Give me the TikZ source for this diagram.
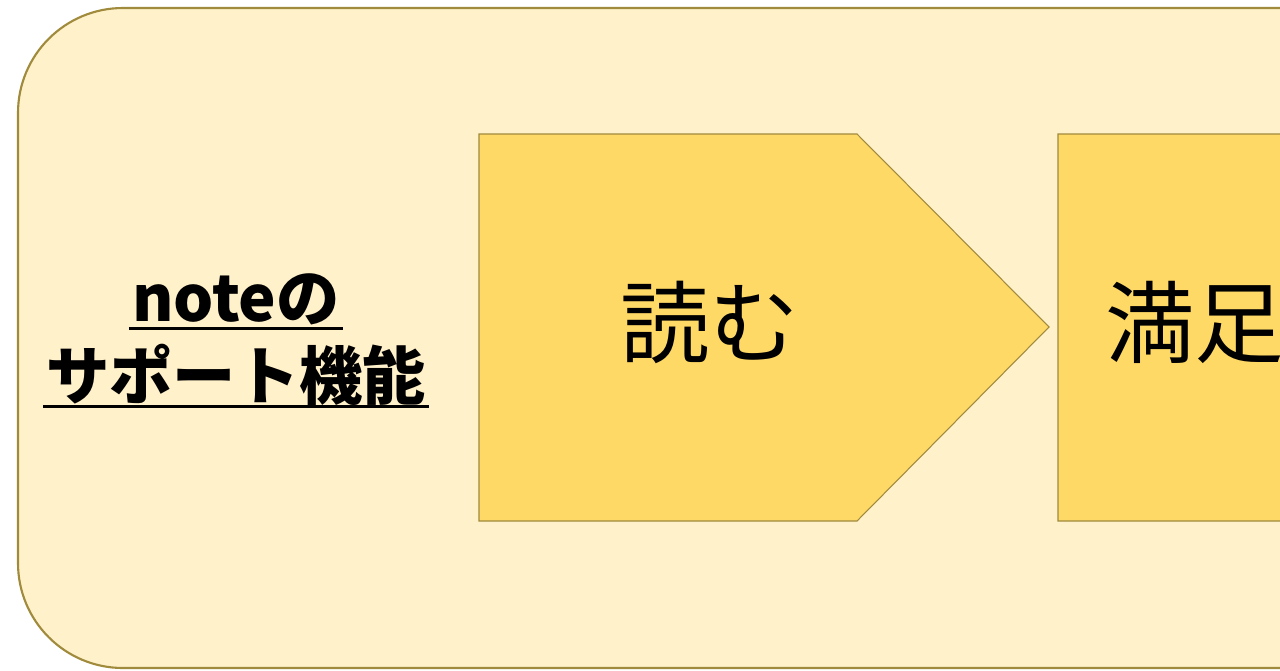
\documentclass[tikz,border=0pt]{standalone}
\usepackage{fontspec}
\setmainfont{Noto Sans CJK JP}
\usepackage{tikz}
\usetikzlibrary{calc}

\definecolor{paleGold}{HTML}{FFF1CA}
\definecolor{midGold}{HTML}{FFD966}
\definecolor{edgeGold}{HTML}{A08A3C}

\begin{document}
\begin{tikzpicture}[x=0.02cm, y=-0.02cm]
            \useasboundingbox (0,0) rectangle (1280,670);
            \draw[edgeGold, fill=paleGold, line width=1.2pt, rounded corners=2.1cm] (18,8) rectangle (1420,668);

            \draw[edgeGold, fill=midGold, line width=0.6pt] (479,134) -- (857,134) -- (1049,327) -- (857,521) -- (479,521) -- cycle;
            \draw[edgeGold, fill=midGold, line width=0.6pt] (1058,134) -- (1436,134) -- (1628,327) -- (1436,521) -- (1058,521) -- cycle;

            \node[anchor=base, inner sep=0pt, font=\fontsize{36}{40}\selectfont\bfseries] (title1) at (236,321) {noteの};
            \node[anchor=base, inner sep=0pt, font=\fontsize{36}{40}\selectfont\bfseries] (title2) at (236,399) {サポート機能};
            \draw[line width=1.7pt] ($(title1.base west)+(-3,7)$) -- ($(title1.base east)+(3,7)$);
            \draw[line width=1.7pt] ($(title2.base west)+(-3,7)$) -- ($(title2.base east)+(3,7)$);

            \node[anchor=base west, inner sep=0pt, font=\fontsize{51}{56}\selectfont] (read) at (620,356) {読む};
            \node[anchor=base west, inner sep=0pt, font=\fontsize{51}{56}\selectfont] (satisfy) at (1105,356) {満足};
        \end{tikzpicture}
\end{document}
